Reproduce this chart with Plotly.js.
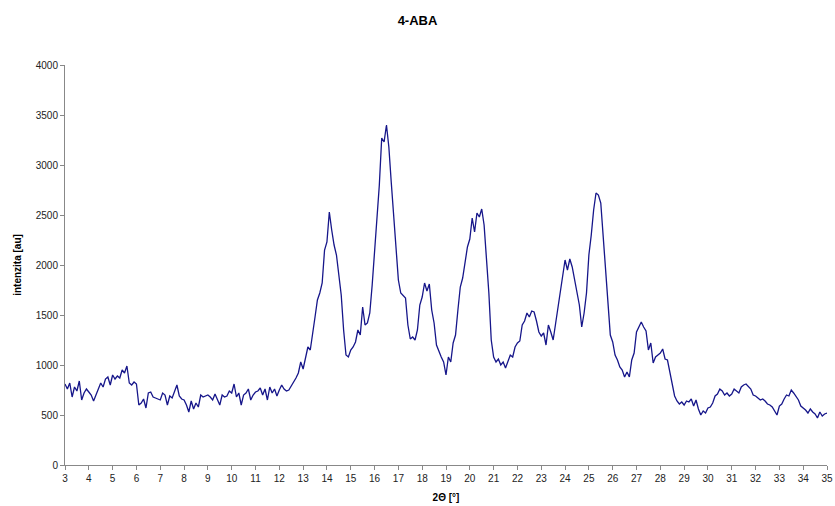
<!DOCTYPE html>
<html>
<head>
<meta charset="utf-8">
<script src="https://cdn.plot.ly/plotly-3.0.1.min.js"></script>
<style>html,body{margin:0;padding:0;background:#fff;}#chart{width:835px;height:506px;}</style>
</head>
<body>
<div id="chart"></div>
<script>
// 2-theta start/step of the scan
const twoThetaStart = 3.0;
const twoThetaStep = 0.1;
const intensity = [
810,760,820,680,780,740,840,650,720,760,
730,700,640,700,740,820,780,860,880,800,
900,860,890,870,950,920,990,820,800,830,
810,600,620,660,570,720,730,680,670,660,
650,720,700,600,690,670,740,800,690,660,
650,600,530,640,560,620,580,700,680,690,
700,680,650,710,660,600,700,680,690,740,
720,810,680,720,600,700,720,760,650,700,
730,740,770,700,760,650,780,720,760,690,
750,800,760,740,750,790,820,870,920,1030,
960,1080,1180,1150,1300,1480,1650,1720,1820,2150,
2230,2530,2350,2200,2100,1900,1700,1350,1100,1080,
1150,1180,1230,1350,1300,1580,1400,1420,1520,1800,
2150,2500,2800,3270,3230,3400,3180,2830,2500,2180,
1850,1720,1690,1670,1400,1260,1280,1250,1350,1600,
1680,1820,1740,1810,1550,1420,1200,1130,1080,1030,
900,1080,1030,1220,1300,1550,1780,1870,2020,2180,
2260,2470,2330,2520,2480,2560,2400,2080,1720,1250,
1080,1030,1060,1000,1030,970,1040,1100,1080,1180,
1220,1240,1400,1440,1520,1480,1540,1530,1440,1330,
1290,1320,1200,1400,1330,1250,1410,1560,1750,1860,
2050,1950,2060,1980,1850,1700,1600,1380,1520,1720,
2100,2300,2550,2720,2700,2620,2300,1880,1600,1300,
1230,1100,1050,980,950,880,930,880,1050,1120,
1330,1380,1430,1380,1340,1150,1220,1020,1080,1100,
1120,1160,1060,1050,930,820,690,640,610,630,
600,640,630,660,590,650,560,500,540,520,
570,580,620,690,710,760,740,700,720,690,
710,760,740,720,780,800,810,780,760,700,
690,670,650,660,640,610,600,580,540,500,
590,610,660,700,690,750,720,680,650,590,
570,550,520,560,530,510,470,530,490,510,
520
];
const twoTheta = intensity.map((_, i) => +(twoThetaStart + i * twoThetaStep).toFixed(2));
const xTicks = [];
for (let t = 3; t <= 35; t++) xTicks.push(t);
const yTicks = [0, 500, 1000, 1500, 2000, 2500, 3000, 3500, 4000];

const font = 'Liberation Sans, Arial, sans-serif';
Plotly.newPlot('chart', [{
  x: twoTheta,
  y: intensity,
  type: 'scatter',
  mode: 'lines',
  line: {color: '#16168a', width: 1.3},
  hoverinfo: 'skip'
}], {
  width: 835, height: 506,
  margin: {l: 65, r: 8, t: 65, b: 41},
  paper_bgcolor: '#fff', plot_bgcolor: '#fff',
  showlegend: false,
  title: {text: '<b>4-ABA</b>', font: {family: font, size: 13, color: '#000'}, x: 0.5, xref: 'container', xanchor: 'center', y: 0.96, yref: 'container', yanchor: 'middle'},
  xaxis: {
    range: [3, 35], tickvals: xTicks, ticktext: xTicks.map(String),
    showgrid: false, zeroline: false, showline: true, linecolor: '#888', linewidth: 1,
    ticks: 'outside', ticklen: 4, tickcolor: '#888',
    tickfont: {family: font, size: 10, color: '#222'},
    title: {text: '<b>2Θ [°]</b>', font: {family: font, size: 10, color: '#000'}, standoff: 10}
  },
  yaxis: {
    range: [0, 4000], tickvals: yTicks, ticktext: yTicks.map(String),
    showgrid: false, zeroline: false, showline: true, linecolor: '#888', linewidth: 1,
    ticks: 'outside', ticklen: 4, tickcolor: '#888',
    tickfont: {family: font, size: 10, color: '#222'},
    title: {text: '<b>intenzita [au]</b>', font: {family: font, size: 10, color: '#000'}, standoff: 12}
  }
}, {displayModeBar: false, staticPlot: true});
</script>
</body>
</html>
